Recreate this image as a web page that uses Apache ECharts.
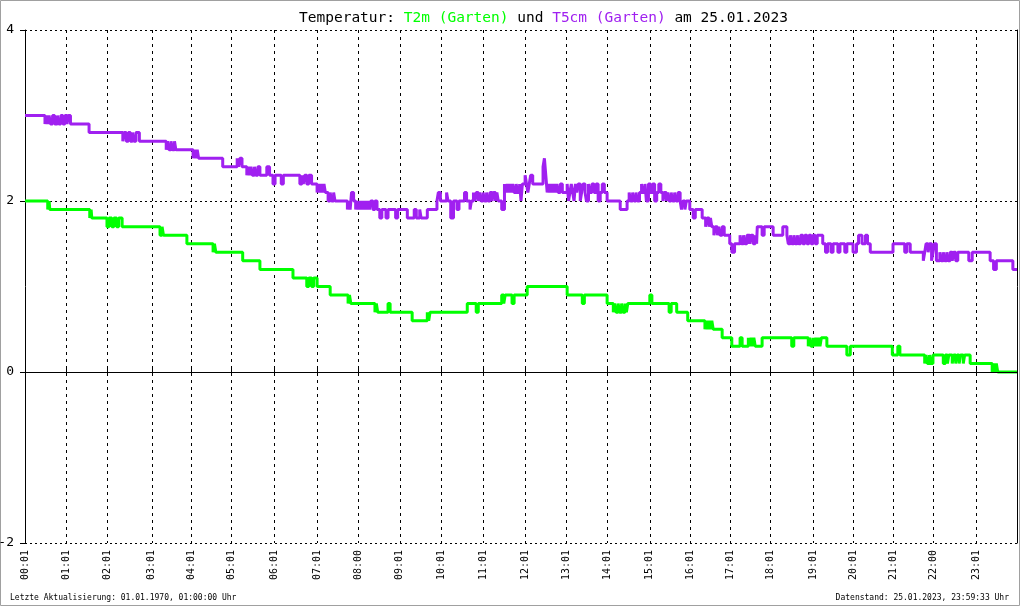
<!DOCTYPE html>
<html><head><meta charset="utf-8">
<script src="https://cdn.jsdelivr.net/npm/echarts@6/dist/echarts.min.js"></script>
<style>html,body{margin:0;padding:0;background:#fff}#c{width:1020px;height:606px}</style>
</head><body><div id="c"></div>
<script>
// X axis: minutes of the day (sample index); tick positions and their labels
const tickMinutes = [0,60,120,184,241,300,362,424,484,544,604,665,726,786,845,907,966,1024,1082,1144,1203,1261,1319,1381];
const tickLabels = ['00:01','01:01','02:01','03:01','04:01','05:01','06:01','07:01','08:00','09:01','10:01','11:01','12:01','13:01','14:01','15:01','16:01','17:01','18:01','19:01','20:01','21:01','22:00','23:01'];
const yTicks = [-2, 0, 2, 4];

// T2m (Garten): [minute, °C] change points (step)
const t2m = [
[0,2.0],[33,1.9],[35,2.0],[36,1.9],
[94,1.8],[96,1.9],[97,1.8],
[119,1.7],[122,1.8],[126,1.7],[129,1.8],[133,1.7],[136,1.8],[141,1.7],
[196,1.6],[199,1.7],[201,1.6],
[235,1.5],[273,1.4],[275,1.5],[277,1.4],
[316,1.3],[341,1.2],[389,1.1],[409,1.0],[412,1.1],[416,1.0],[419,1.1],[424,1.0],
[443,0.9],[469,0.8],[471,0.9],[473,0.8],
[508,0.7],[510,0.8],[512,0.7],[527,0.8],[530,0.7],
[562,0.6],[584,0.7],[586,0.6],[588,0.7],
[642,0.8],[655,0.7],[658,0.8],
[692,0.9],[695,0.8],[697,0.9],[707,0.8],[710,0.9],
[729,1.0],[787,0.9],[809,0.8],[812,0.9],
[845,0.8],[854,0.7],[856,0.8],[858,0.7],[861,0.8],[863,0.7],[866,0.8],[868,0.7],[871,0.8],[873,0.7],[875,0.8],
[907,0.9],[910,0.8],[935,0.7],[938,0.8],
[946,0.7],[962,0.6],[987,0.5],[989,0.6],[991,0.5],[993,0.6],[995,0.5],[997,0.6],[999,0.5],
[1012,0.4],[1026,0.3],[1038,0.4],[1041,0.3],[1050,0.4],[1052,0.3],[1054,0.4],[1056,0.3],[1058,0.4],[1060,0.3],
[1070,0.4],[1113,0.3],[1116,0.4],
[1137,0.3],[1139,0.4],[1141,0.3],[1144,0.4],[1146,0.3],[1148,0.4],[1150,0.3],[1152,0.4],[1154,0.3],[1156,0.4],[1164,0.3],
[1193,0.2],[1198,0.3],[1259,0.2],[1267,0.3],[1270,0.2],
[1306,0.1],[1308,0.2],[1310,0.1],[1313,0.2],[1315,0.1],[1318,0.2],
[1333,0.1],[1336,0.2],[1339,0.1],[1341,0.2],[1346,0.1],[1348,0.2],[1351,0.1],[1353,0.2],[1356,0.1],[1358,0.2],[1362,0.1],[1364,0.2],
[1372,0.1],[1404,0.0],[1406,0.1],[1408,0.0],[1410,0.1],[1412,0.0],[1440,0.0]
];

// T5cm (Garten): [minute, °C] change points (step)
const t5cm = [
[0,3.0],[29,2.9],[31,3.0],[33,2.9],[35,3.0],[37,2.9],[40,3.0],[43,2.9],[47,3.0],[49,2.9],[52,3.0],[55,2.9],[58,3.0],[61,2.9],[63,3.0],[66,2.9],
[93,2.8],[142,2.7],[144,2.8],[147,2.7],[150,2.8],[153,2.7],[156,2.8],[158,2.7],[161,2.8],[166,2.7],
[205,2.6],[207,2.7],[209,2.6],[212,2.7],[214,2.6],[217,2.7],[219,2.6],
[244,2.5],[246,2.6],[248,2.5],[250,2.6],[252,2.5],
[287,2.4],[308,2.5],[310,2.4],[312,2.5],[315,2.4],
[322,2.3],[324,2.4],[326,2.3],[328,2.4],[330,2.3],[333,2.4],[335,2.3],[338,2.4],[341,2.3],[351,2.4],[355,2.3],
[360,2.2],[363,2.3],[372,2.2],[375,2.3],
[399,2.2],[402,2.3],[404,2.2],[406,2.3],[409,2.2],[412,2.3],[416,2.2],[424,2.1],[426,2.2],[428,2.1],[430,2.2],[432,2.1],[434,2.2],[436,2.1],
[440,2.0],[443,2.1],[445,2.0],[448,2.1],[450,2.0],
[468,1.9],[470,2.0],[472,1.9],[474,2.1],[477,2.0],[480,1.9],[482,2.0],[484,1.9],[486,2.0],[488,1.9],[490,2.0],[492,1.9],[494,2.0],[496,1.9],[498,2.0],[500,1.9],[502,2.0],[505,1.9],[508,2.0],[511,1.9],
[515,1.8],[518,1.9],[524,1.8],[527,1.9],[538,1.8],[541,1.9],
[555,1.8],[565,1.9],[568,1.8],[573,1.9],[575,1.8],
[584,1.9],[598,2.0],[600,2.1],[603,2.0],[612,2.1],[614,2.0],[618,1.8],[622,2.0],[627,1.9],[630,2.0],
[638,2.1],[641,2.0],[646,1.9],[648,2.0],[651,2.1],[653,2.0],[655,2.1],[658,2.0],[660,2.1],[662,2.0],
[665,2.1],[667,2.0],[670,2.1],[672,2.0],[675,2.1],[678,2.0],[680,2.1],[683,2.0],[685,2.1],[687,2.0],
[692,1.9],[696,2.2],[698,2.1],[700,2.2],[702,2.1],[704,2.2],[706,2.1],[708,2.2],[710,2.1],[713,2.2],[715,2.1],[718,2.2],[720,2.0],[722,2.2],
[726,2.3],[728,2.2],[730,2.1],[732,2.2],[734,2.3],[737,2.2],[741,2.2],
[752,2.4],[754,2.5],[756,2.3],
[758,2.1],[760,2.2],[762,2.1],[764,2.2],[766,2.1],[768,2.2],[770,2.1],[772,2.2],[774,2.1],[777,2.2],[780,2.1],
[787,2.2],[789,2.0],[791,2.1],[793,2.2],[795,2.1],[797,2.0],[799,2.2],[801,2.1],[803,2.2],[806,2.0],[808,2.1],[810,2.2],[813,2.1],[815,2.0],[818,2.2],[820,2.1],[823,2.2],[826,2.1],[829,2.2],[832,2.0],[835,2.1],[838,2.2],[841,2.1],
[845,2.0],[864,1.9],[874,2.0],[877,2.1],[879,2.0],[882,2.1],[884,2.0],[887,2.1],[889,2.0],[892,2.1],[895,2.2],[897,2.1],[900,2.2],[902,2.0],[905,2.2],[908,2.1],[911,2.2],[914,2.0],[917,2.1],[920,2.2],[923,2.1],
[926,2.0],[928,2.1],[931,2.0],[933,2.1],[935,2.0],[938,2.1],[940,2.0],[943,2.1],[945,2.0],[948,2.1],
[951,2.0],[953,1.9],[955,2.0],[958,1.9],[960,2.0],[965,1.9],[970,1.8],[973,1.9],
[983,1.8],[988,1.7],[990,1.8],[993,1.7],[995,1.8],[997,1.7],[1000,1.6],[1002,1.7],[1005,1.6],[1007,1.7],[1009,1.6],[1012,1.7],[1015,1.6],
[1023,1.5],[1026,1.4],[1030,1.5],[1038,1.6],[1040,1.5],[1043,1.6],[1045,1.5],[1048,1.6],[1052,1.5],[1054,1.6],[1057,1.5],[1060,1.6],[1062,1.5],
[1063,1.7],[1070,1.6],[1073,1.7],[1086,1.6],[1100,1.7],[1106,1.6],[1108,1.5],[1111,1.6],[1113,1.5],[1116,1.6],[1118,1.5],[1121,1.6],[1123,1.5],[1126,1.6],[1129,1.5],[1132,1.6],[1135,1.5],[1138,1.6],[1141,1.5],[1144,1.6],[1147,1.5],[1150,1.6],
[1158,1.5],[1162,1.4],[1165,1.5],[1170,1.4],[1173,1.5],[1180,1.4],[1183,1.5],[1190,1.4],[1193,1.5],
[1202,1.4],[1207,1.5],[1210,1.6],[1215,1.5],[1220,1.6],[1223,1.5],[1227,1.4],
[1260,1.5],[1277,1.4],[1280,1.5],[1285,1.4],
[1304,1.3],[1306,1.4],[1308,1.5],[1311,1.4],[1313,1.5],[1316,1.3],[1318,1.4],[1320,1.5],[1323,1.3],
[1328,1.4],[1330,1.3],[1333,1.4],[1335,1.3],[1338,1.4],[1340,1.3],[1343,1.4],[1346,1.3],[1348,1.4],[1351,1.3],[1354,1.4],
[1370,1.3],[1375,1.4],[1401,1.3],[1406,1.2],[1410,1.3],[1434,1.2],[1440,1.2]
];

const GREEN = '#00ff00', PURPLE = '#a020f0';
const MONO = '"DejaVu Sans Mono", "Liberation Mono", monospace';

const chart = echarts.init(document.getElementById('c'), null, {renderer: 'canvas'});
chart.setOption({
  animation: false,
  backgroundColor: '#ffffff',
  title: {
    text: '{k|Temperatur: }{g|T2m (Garten)}{k| und }{p|T5cm (Garten)}{k| am 25.01.2023}',
    left: 294, top: 6,
    textStyle: {
      fontWeight: 'normal',
      rich: {
        k: {fontFamily: MONO, fontSize: 14.5, fontWeight: 'normal', color: '#000'},
        g: {fontFamily: MONO, fontSize: 14.5, fontWeight: 'normal', color: GREEN},
        p: {fontFamily: MONO, fontSize: 14.5, fontWeight: 'normal', color: PURPLE}
      }
    }
  },
  grid: {left: 25, right: 3, top: 30, bottom: 63, containLabel: false, outerBoundsMode: 'none'},
  xAxis: {
    type: 'value', min: 0, max: 1440,
    axisLine: {show: false},
    axisTick: {show: true, inside: true, length: 4, customValues: tickMinutes, lineStyle: {color: '#000'}},
    axisLabel: {
      customValues: tickMinutes, rotate: 90, margin: 7,
      fontFamily: MONO, fontSize: 10, color: '#000',
      formatter: v => tickLabels[tickMinutes.indexOf(v)] || ''
    },
    splitLine: {show: true, lineStyle: {color: '#000', type: [3, 4], width: 1}}
  },
  yAxis: [{
    type: 'value', min: -2, max: 4, interval: 2,
    axisLine: {show: true, lineStyle: {color: '#000'}},
    axisTick: {show: true, length: 5, lineStyle: {color: '#000'}},
    axisLabel: {fontFamily: MONO, fontSize: 13, color: '#000', margin: 11},
    splitLine: {show: true, lineStyle: {color: '#000', type: [2, 3], width: 1}}
  }, {
    type: 'value', min: -2, max: 4, interval: 2, position: 'right',
    axisLine: {show: true, lineStyle: {color: '#000'}},
    axisTick: {show: false}, axisLabel: {show: false}, splitLine: {show: false}
  }],
  graphic: [
    {type: 'rect', shape: {x: 0.5, y: 0.5, width: 1019, height: 605}, style: {fill: 'none', stroke: '#a0a0a0', lineWidth: 1}, silent: true},
    {type: 'text', left: 10, top: 594, style: {text: 'Letzte Aktualisierung: 01.01.1970, 01:00:00 Uhr', font: '8px ' + MONO, fill: '#000'}},
    {type: 'text', right: 11, top: 594, style: {text: 'Datenstand: 25.01.2023, 23:59:33 Uhr', font: '8px ' + MONO, fill: '#000'}}
  ],
  series: [
    {type: 'line', data: [], z: 1, silent: true,
     markLine: {silent: true, symbol: 'none', label: {show: false}, lineStyle: {color: '#000', type: 'solid', width: 1}, data: [{yAxis: 0}]}},
    {name: 'T2m (Garten)', type: 'line', step: 'end', data: t2m, showSymbol: false, z: 3,
     lineStyle: {color: GREEN, width: 3}, itemStyle: {color: GREEN}},
    {name: 'T5cm (Garten)', type: 'line', step: 'end', data: t5cm, showSymbol: false, z: 3,
     lineStyle: {color: PURPLE, width: 3}, itemStyle: {color: PURPLE}}
  ]
});
</script></body></html>
